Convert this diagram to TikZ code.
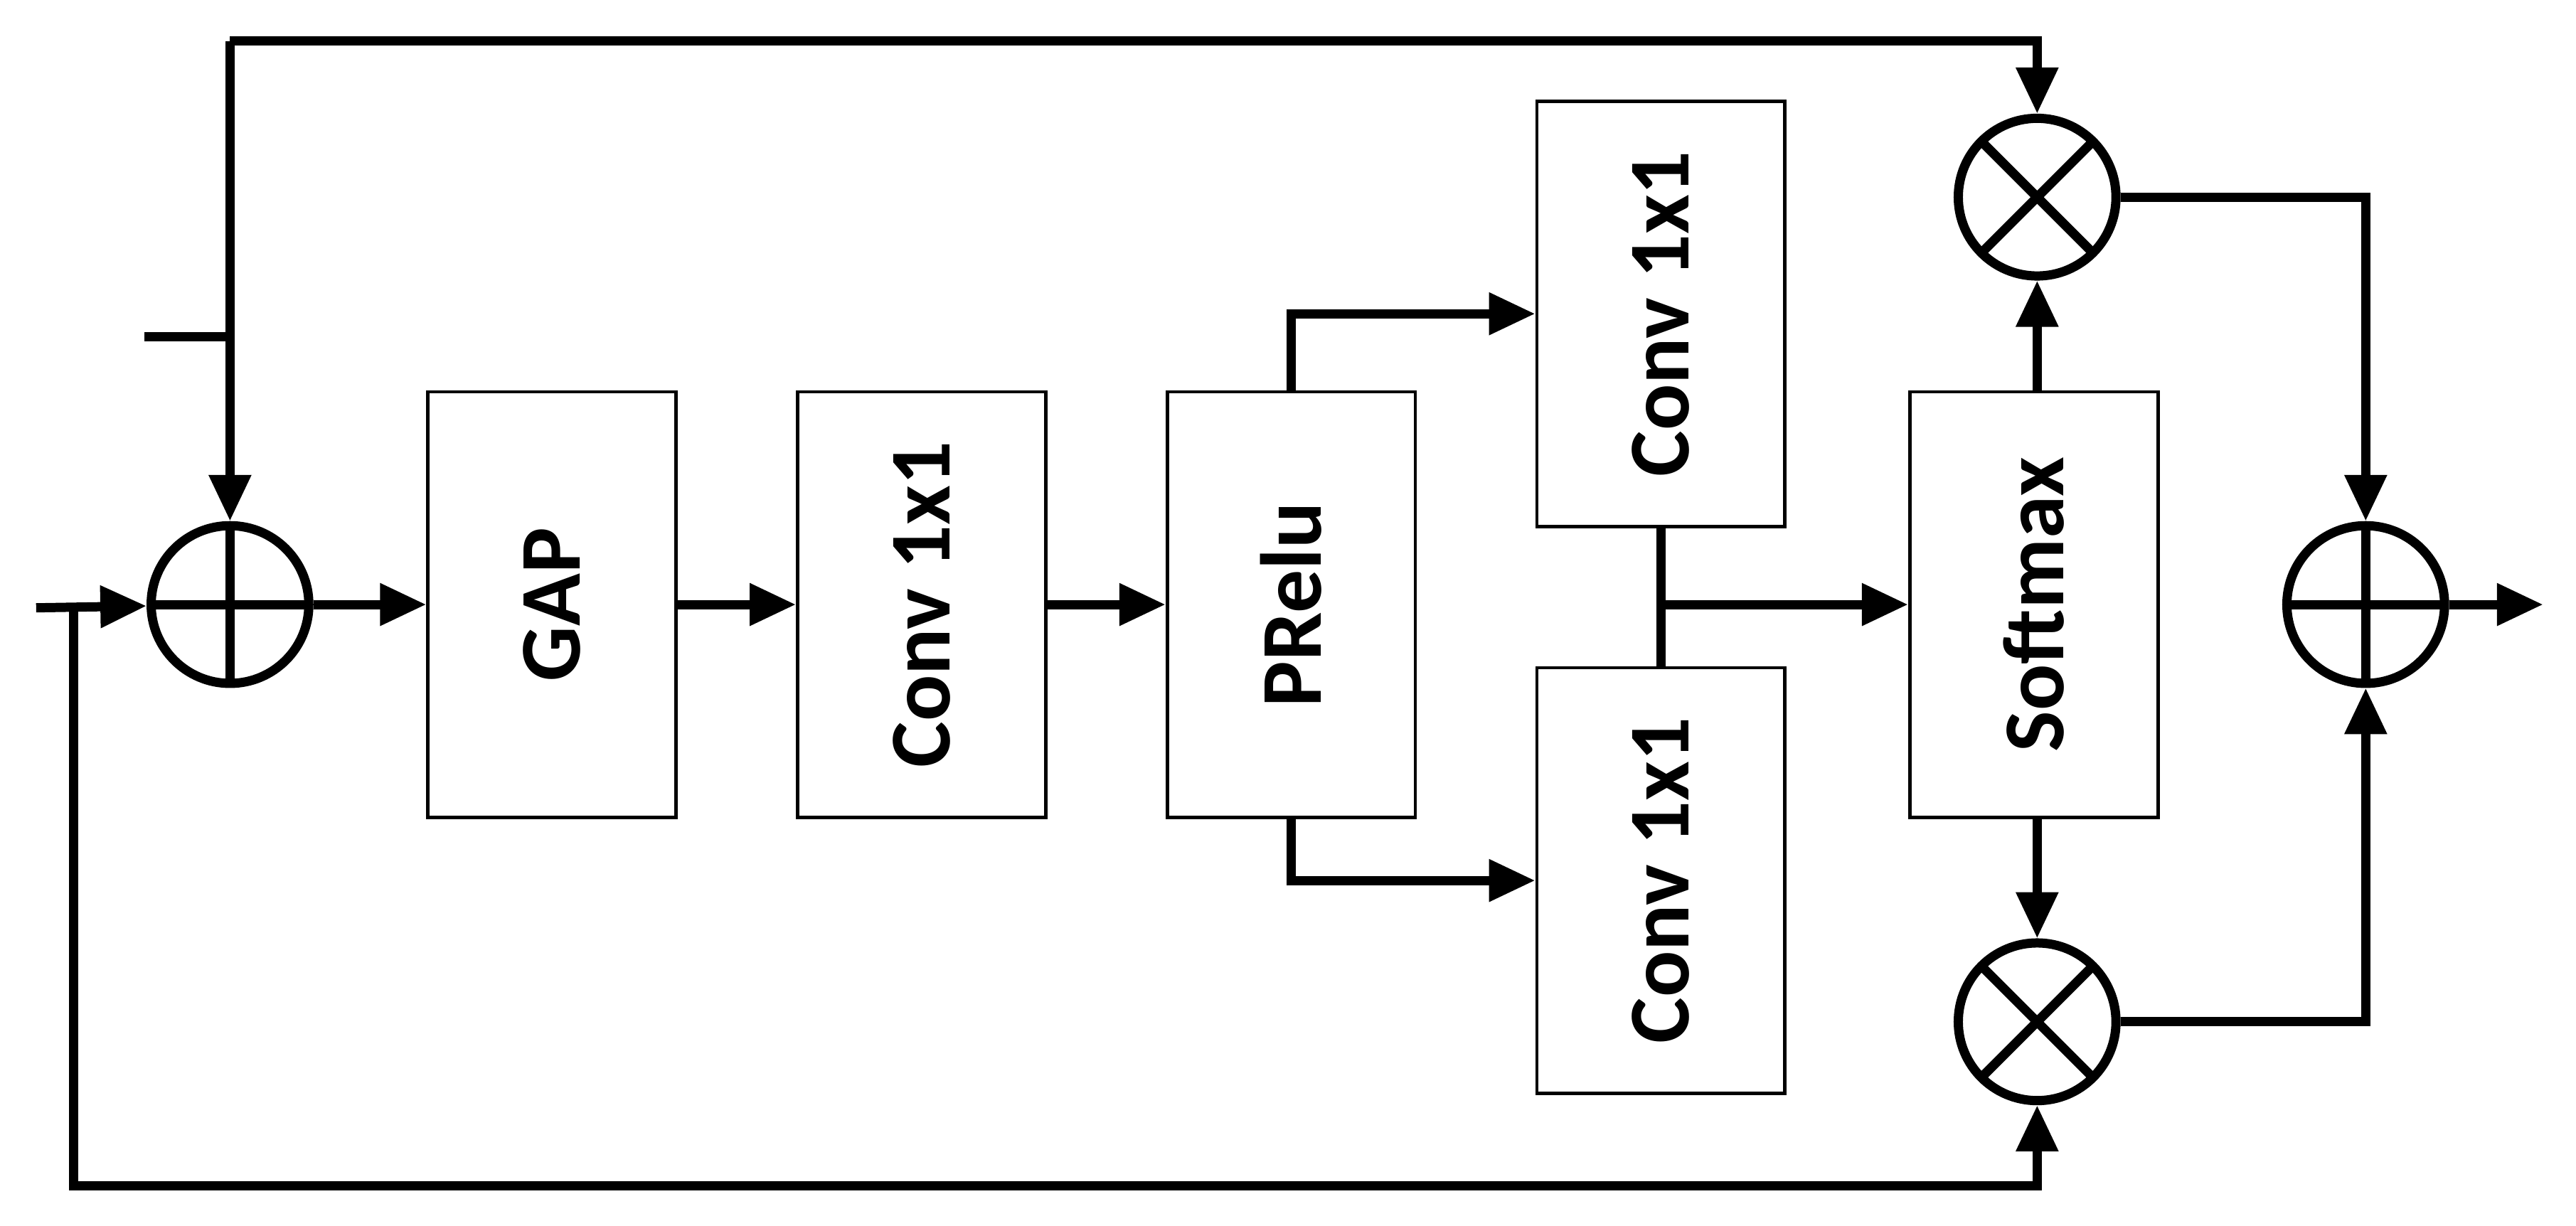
\documentclass[tikz,border=0pt]{standalone}
\usepackage{fontspec}
\setmainfont{Carlito}
\usetikzlibrary{positioning,calc,arrows.meta}
\begin{document}
\begin{tikzpicture}[x=0.1mm,y=-0.1mm,
  block/.style={draw,line width=0.6pt,minimum width=15.1mm,minimum height=25.9mm,inner sep=0pt,
    font=\fontsize{15}{18}\selectfont\bfseries},
  op/.style={draw,circle,line width=1.6pt,minimum size=9.6mm,inner sep=0pt},
  plus/.style={op,path picture={\draw[line width=1.6pt] (path picture bounding box.north) -- (path picture bounding box.south)
      (path picture bounding box.west) -- (path picture bounding box.east);}},
  times/.style={op,path picture={\draw[line width=1.6pt] (path picture bounding box.north west) -- (path picture bounding box.south east)
      (path picture bounding box.north east) -- (path picture bounding box.south west);}},
  conn/.style={line width=1.6pt},
  arr/.style={conn,-{Triangle[length=8pt,width=7pt]}}]
  \useasboundingbox (0,0) rectangle (1568,746);

  % operators
  \node[plus] (sum) at (140,368) {};
  \node[plus] (out) at (1440,368) {};
  \node[times] (mtop) at (1240,120) {};
  \node[times] (mbot) at (1240,622) {};

  % blocks
  \node[block] (gap) at (336,368) {\rotatebox{90}{GAP}};
  \node[block] (conv) at (561,368) {\rotatebox{90}{Conv 1x1}};
  \node[block] (prelu) at (786,368) {\rotatebox{90}{PRelu}};
  \node[block] (conva) at (1011,191) {\rotatebox{90}{Conv 1x1}};
  \node[block] (convb) at (1011,536) {\rotatebox{90}{Conv 1x1}};
  \node[block] (soft) at (1238,368) {\rotatebox{90}{Softmax}};

  \coordinate (in) at (22,370);
  \coordinate (split) at (45,370);
  \coordinate (tick) at (88,205);
  \coordinate (end) at (1548,368);
  \coordinate (merge) at (1011,368);

  % main path
  \draw[arr] (in) -- (sum);
  \draw[arr] (sum) -- (gap);
  \draw[arr] (gap) -- (conv);
  \draw[arr] (conv) -- (prelu);
  \draw[arr] (prelu.north) |- (conva.west);
  \draw[arr] (prelu.south) |- (convb.west);
  \draw[conn] (conva.south) -- (convb.north);
  \draw[arr] (merge) -- (soft);
  \draw[arr] (soft.north -| mtop) -- (mtop);
  \draw[arr] (soft.south -| mbot) -- (mbot);
  \draw[arr] (mtop) -| (out);
  \draw[arr] (mbot) -| (out);
  \draw[arr] (out) -- (end);

  % skip paths
  \draw[conn] (tick) -- (tick -| sum);
  \draw[arr] (sum |- 0,25) -- (sum);
  \draw[arr] (sum |- 0,25) -| (mtop);
  \draw[arr] (split) |- (mbot |- 0,722) -- (mbot);
\end{tikzpicture}
\end{document}
